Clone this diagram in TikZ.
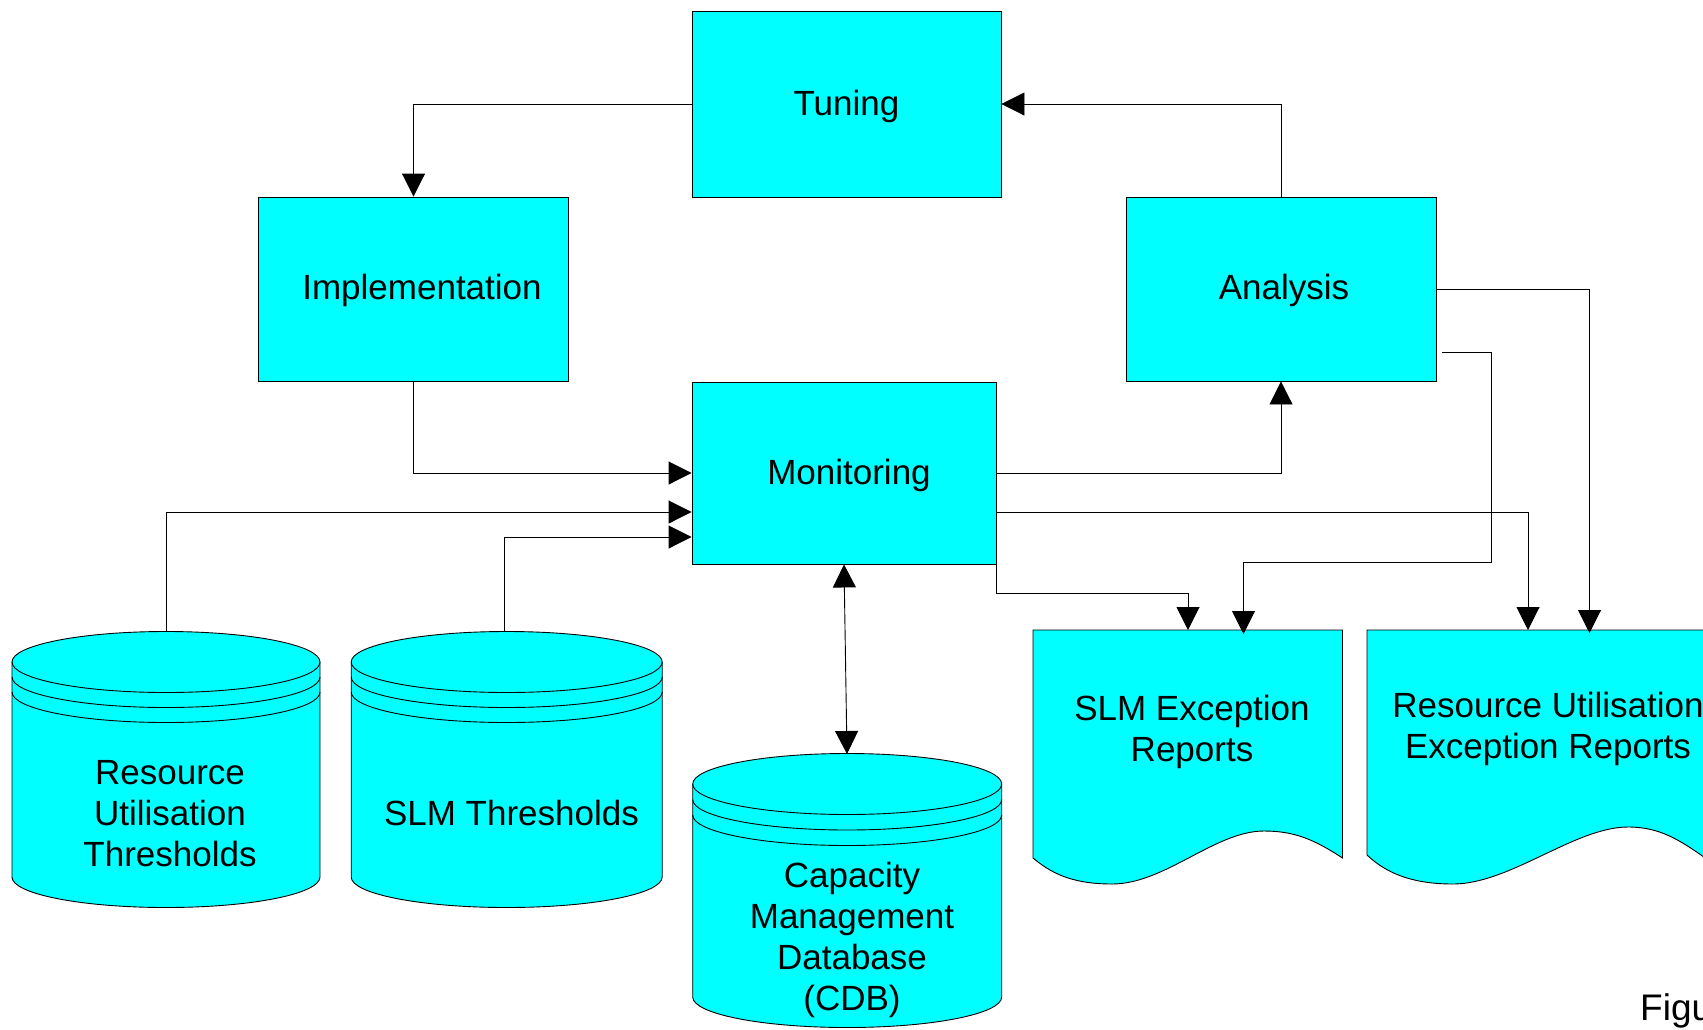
\documentclass[tikz,border=0pt]{standalone}
\usepackage{fontspec}
\setmainfont{Liberation Sans}
\usetikzlibrary{arrows.meta}
\definecolor{aqua}{RGB}{0,255,255}

% Stacked-disk store: #1 centre x, #2 half width, #3 top rim centre y,
% #4 bottom rim centre y, #5 rim radius (vertical), #6 gap between rim lines
\newcommand\dbdrum[6]{%
  \filldraw[shapeline,fill=aqua]
    ({#1-#2},{#3}) .. controls ({#1-#2},{#3-0.5523*#5}) and ({#1-0.5523*#2},{#3-#5}) .. ({#1},{#3-#5})
    .. controls ({#1+0.5523*#2},{#3-#5}) and ({#1+#2},{#3-0.5523*#5}) .. ({#1+#2},{#3})
    -- ({#1+#2},{#4})
    .. controls ({#1+#2},{#4+0.5523*#5}) and ({#1+0.5523*#2},{#4+#5}) .. ({#1},{#4+#5})
    .. controls ({#1-0.5523*#2},{#4+#5}) and ({#1-#2},{#4+0.5523*#5}) .. ({#1-#2},{#4}) -- cycle;
  \foreach \s in {0,1,2}{%
    \draw[shapeline]
      ({#1-#2},{#3+\s*#6}) .. controls ({#1-#2},{#3+\s*#6+0.5523*#5}) and ({#1-0.5523*#2},{#3+\s*#6+#5}) .. ({#1},{#3+\s*#6+#5})
      .. controls ({#1+0.5523*#2},{#3+\s*#6+#5}) and ({#1+#2},{#3+\s*#6+0.5523*#5}) .. ({#1+#2},{#3+\s*#6});
  }%
}

\begin{document}
\begin{tikzpicture}[x=1pt,y=-1pt,
  shapeline/.style={draw=black,line width=0.9pt},
  procbox/.style={shapeline,fill=aqua,inner sep=0pt},
  lbl/.style={font=\fontsize{35}{41}\selectfont,align=center,anchor=base,inner sep=0pt},
  conn/.style={draw=black,line width=0.9pt,-{Triangle[length=23pt,width=23pt]}},
  biconn/.style={draw=black,line width=0.9pt,{Triangle[length=23pt,width=23pt]}-{Triangle[length=23pt,width=23pt]}}]

\useasboundingbox (0,0) rectangle (1703,1029);
\clip (0,0) rectangle (1703,1029);
\fill[white] (0,0) rectangle (1703,1029);

% process boxes
\node[procbox,minimum width=309,minimum height=186] (tun)  at (846.5,104) {};
\node[procbox,minimum width=310,minimum height=184] (impl) at (413.5,289) {};
\node[procbox,minimum width=310,minimum height=184] (ana)  at (1281,289) {};
\node[procbox,minimum width=304,minimum height=182] (mon)  at (844,473) {};

\node[lbl] (tun-t)  at (846.5,115) {Tuning};
\node[lbl] (impl-t) at (422,299)   {Implementation};
\node[lbl] (ana-t)  at (1284,299)  {Analysis};
\node[lbl] (mon-t)  at (849,484)   {Monitoring};

% data stores
\dbdrum{166}{154}{662}{877}{30.5}{15}
\dbdrum{506.7}{155.5}{662}{877}{30.5}{15}
\dbdrum{847.2}{154.5}{784}{997}{30.5}{15.5}

% multi-line labels are placed by the baseline of their last line
\node[lbl] (rut-t) at (170,866) {Resource\\Utilisation\\Thresholds};
\node[lbl] (slt-t) at (511.5,825) {SLM Thresholds};
\node[lbl] (cdb-t) at (852,1010) {Capacity\\Management\\Database\\(CDB)};

% report documents
\filldraw[shapeline,fill=aqua] (1033,630) -- (1342.5,630) -- (1342.5,858)
  .. controls (1315,840) and (1295,831) .. (1264,831)
  .. controls (1215,831) and (1165,884) .. (1112,884)
  .. controls (1070,884) and (1050,872) .. (1033,858) -- cycle;
\filldraw[shapeline,fill=aqua] (1367,630) -- (1708,630) -- (1708,860)
  .. controls (1680,840) and (1660,827) .. (1628,827)
  .. controls (1575,827) and (1510,884) .. (1453,884)
  .. controls (1410,884) and (1385,872) .. (1367,855) -- cycle;

\node[lbl] (slmr-t) at (1192,761) {SLM Exception\\Reports};
\node[lbl] (rur-t)  at (1548,758) {Resource Utilisation\\Exception Reports};

% connector end points on the stores and reports
\coordinate (rut-top)  at (166,631);
\coordinate (slt-top)  at (504,631);
\coordinate (cdb-top)  at (847,754);
\coordinate (slmr-in1) at (1188,630);
\coordinate (slmr-in2) at (1243.5,634);
\coordinate (rur-in1)  at (1528,630);
\coordinate (rur-in2)  at (1589.5,633);
\coordinate (ana-o2)   at (1442,352);

% control cycle
\draw[conn] (tun.west) -| (impl.north);
\draw[conn] (ana.north) |- (tun.east);
\draw[conn] (impl.south) |- (mon.west);
\draw[conn] (mon.east) -| (ana.south);

% thresholds into monitoring, database link
\draw[conn] (rut-top) |- ([yshift=-39pt]mon.west);
\draw[conn] (slt-top) |- ([yshift=-64pt]mon.west);
\draw[biconn] (mon.south) -- (cdb-top);

% exception reports
\draw[conn] (mon.south east) -- ++(0,29) -| (slmr-in1);
\draw[conn] ([yshift=-39pt]mon.east) -| (rur-in1);
\draw[conn] (ana-o2) -| ++(49,210) -| (slmr-in2);
\draw[conn] (ana.east) -| (rur-in2);

\node[font=\fontsize{37}{44}\selectfont,anchor=base west,inner sep=0pt] (fig-t) at (1640,1020) {Figure};
\end{tikzpicture}
\end{document}
